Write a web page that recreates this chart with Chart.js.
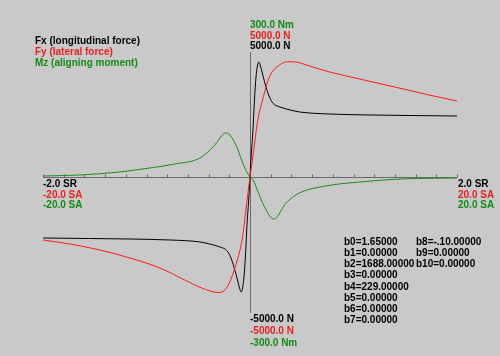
<!DOCTYPE html>
<html>
<head>
<meta charset="utf-8">
<script src="https://cdn.jsdelivr.net/npm/chart.js@4.4.1/dist/chart.umd.min.js"></script>
<style>
  html, body { margin: 0; padding: 0; background: #c9c9c9; }
  #wrap { width: 500px; height: 356px; }
</style>
</head>
<body>
<div id="wrap"><canvas id="c" width="500" height="356"></canvas></div>
<script>
// ---- data (x in slip-angle units, -20..20; Fx/Fy in N; Mz in Nm) ----
const fxX = [-20, -15.5, -11.6, -7.7, -4.8, -3.9, -2.9, -2.2, -1.84, -1.55, -1.21, -1.01, -0.85, -0.72, -0.58, -0.43, -0.27, -0.14, 0,
             0.14, 0.27, 0.43, 0.58, 0.72, 0.85, 1.01, 1.21, 1.55, 1.84, 2.2, 2.9, 3.9, 4.8, 7.7, 11.6, 15.5, 20];
const fxY = [-2440, -2460, -2480, -2520, -2600, -2680, -2800, -2960, -3240, -3600, -4120, -4440, -4600, -4440, -4000, -3080, -1760, -1000, 0,
             1000, 1760, 3080, 4000, 4440, 4600, 4440, 4120, 3600, 3240, 2960, 2800, 2680, 2600, 2520, 2480, 2460, 2440];

const fyX = [-20, -17.4, -14.5, -11.6, -8.7, -6.3, -4.9, -3.7, -3.0, -2.2, -1.5, -0.72, -0.34, 0,
             0.34, 0.72, 1.21, 1.88, 2.85, 3.62, 4.4, 5.75, 7.7, 10.6, 14.4, 17.3, 20];
const fyY = [-2520, -2680, -2920, -3240, -3640, -4120, -4400, -4580, -4620, -4400, -3680, -2400, -1120, 0,
             1000, 2200, 3080, 4010, 4480, 4610, 4600, 4440, 4200, 3920, 3560, 3280, 3040];

const mzX = [-20, -16.5, -12.6, -9.7, -7.3, -4.8, -3.5, -2.3, -1.3, -0.8, -0.35, 0,
             0.3, 0.7, 1.4, 2.3, 3.5, 4.8, 7.2, 10.6, 14.4, 20];
const mzY = [2.4, 4.8, 12, 21.6, 31, 46, 74, 106, 74, 40, 14, 0,
             -7, -31, -72, -101, -62, -38, -22, -12, -5, -2.4];

const xTicks = [-20, -18, -16, -14, -12, -10, -8, -6, -4, -2, 0, 2, 4, 6, 8, 10, 12, 14, 16, 18, 20];

const legendLabels = ['Fx (longitudinal force)', 'Fy (lateral force)', 'Mz (aligning moment)'];
const topLabels = ['300.0 Nm', '5000.0 N', '5000.0 N'];
const bottomLabels = ['-5000.0 N', '-5000.0 N', '-300.0 Nm'];
const leftLabels = ['-2.0 SR', '-20.0 SA', '-20.0 SA'];
const rightLabels = ['2.0 SR', '20.0 SA', '20.0 SA'];
const coefCol1 = ['b0=1.65000', 'b1=0.00000', 'b2=1688.00000', 'b3=0.00000', 'b4=229.00000', 'b5=0.00000', 'b6=0.00000', 'b7=0.00000'];
const coefCol2 = ['b8=-.10.00000', 'b9=0.00000', 'b10=0.00000'];

// ---- styles ----
const C_BLACK = '#000000', C_RED = '#ff1a1a', C_GREEN = '#1f8a1f';
const T_RED = '#e82020', T_GREEN = '#138a13';
const FONT = 'bold 10px "Liberation Sans", Arial, sans-serif';

function pts(xs, ys) { return xs.map((x, i) => ({ x: x, y: ys[i] })); }

const overlay = {
  id: 'overlay',
  beforeDraw(chart) {
    const ctx = chart.ctx;
    ctx.save();
    ctx.fillStyle = '#c9c9c9';
    ctx.fillRect(0, 0, chart.width, chart.height);
    ctx.restore();
  },
  beforeDatasetsDraw(chart) {
    const ctx = chart.ctx, xs = chart.scales.x, ys = chart.scales.y, a = chart.chartArea;
    const x0 = Math.round(xs.getPixelForValue(0)) + 0.5;
    const y0 = Math.round(ys.getPixelForValue(0)) + 0.5;
    ctx.save();
    ctx.strokeStyle = '#6a6a6a';
    ctx.lineWidth = 1;
    ctx.beginPath();
    ctx.moveTo(a.left, y0); ctx.lineTo(a.right, y0);
    ctx.moveTo(x0, a.top); ctx.lineTo(x0, a.bottom + 11);
    xTicks.forEach(t => {
      const px = Math.round(xs.getPixelForValue(t)) + 0.5;
      ctx.moveTo(px, y0); ctx.lineTo(px, y0 - 3);
    });
    ctx.stroke();
    ctx.restore();
  },
  afterDraw(chart) {
    const ctx = chart.ctx, xs = chart.scales.x, ys = chart.scales.y, a = chart.chartArea;
    const x0 = xs.getPixelForValue(0);
    const y0 = ys.getPixelForValue(0);
    ctx.save();
    ctx.font = FONT;
    ctx.textBaseline = 'middle';
    ctx.textAlign = 'left';
    const cols3 = [C_BLACK, T_RED, T_GREEN];
    legendLabels.forEach((t, i) => { ctx.fillStyle = cols3[i]; ctx.fillText(t, 35, 41 + i * 11.3); });
    const topCols = [T_GREEN, T_RED, C_BLACK];
    topLabels.forEach((t, i) => { ctx.fillStyle = topCols[i]; ctx.fillText(t, x0, a.top - 27 + i * 10.8); });
    const botCols = [C_BLACK, T_RED, T_GREEN];
    bottomLabels.forEach((t, i) => { ctx.fillStyle = botCols[i]; ctx.fillText(t, x0, a.bottom + 17 + i * 12); });
    leftLabels.forEach((t, i) => { ctx.fillStyle = cols3[i]; ctx.fillText(t, a.left, y0 + 7 + i * 10.8); });
    rightLabels.forEach((t, i) => { ctx.fillStyle = cols3[i]; ctx.fillText(t, a.right + 1, y0 + 7 + i * 10.8); });
    ctx.fillStyle = C_BLACK;
    coefCol1.forEach((t, i) => ctx.fillText(t, 344, 242 + i * 11.2));
    coefCol2.forEach((t, i) => ctx.fillText(t, 416, 242 + i * 11.2));
    ctx.restore();
  }
};

const common = { showLine: true, pointRadius: 0, borderWidth: 1, fill: false, cubicInterpolationMode: 'monotone' };

new Chart(document.getElementById('c'), {
  type: 'scatter',
  data: {
    datasets: [
      Object.assign({ label: 'Mz', data: pts(mzX, mzY), borderColor: C_GREEN, yAxisID: 'y2' }, common),
      Object.assign({ label: 'Fy', data: pts(fyX, fyY), borderColor: C_RED, yAxisID: 'y' }, common),
      Object.assign({ label: 'Fx', data: pts(fxX, fxY), borderColor: C_BLACK, yAxisID: 'y' }, common)
    ]
  },
  options: {
    responsive: false,
    animation: false,
    layout: { padding: { left: 43, right: 43, top: 52, bottom: 54 } },
    plugins: { legend: { display: false }, tooltip: { enabled: false } },
    scales: {
      x: { type: 'linear', min: -20, max: 20, display: false },
      y: { type: 'linear', min: -5000, max: 5000, display: false },
      y2: { type: 'linear', min: -300, max: 300, display: false }
    }
  },
  plugins: [overlay]
});
</script>
</body>
</html>
